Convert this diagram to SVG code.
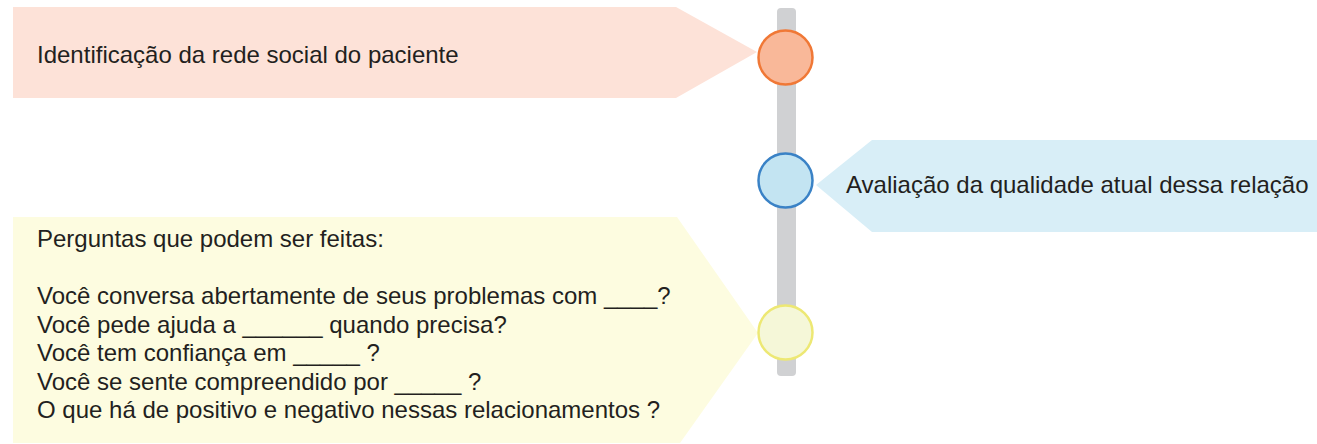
<svg xmlns="http://www.w3.org/2000/svg" width="1317" height="444" viewBox="0 0 1317 444">
<style>
text{font-family:"Liberation Sans",Arial,sans-serif;font-size:24px;fill:#231f20}
.node circle{stroke-width:2.5}
</style>
<rect width="1317" height="444" fill="#ffffff"/>
<g id="timeline">
<rect x="777" y="8" width="19" height="368" rx="4" fill="#d0d1d3"/>
</g>
<g id="connectors"></g>
<g id="node1" class="node">
<polygon points="13,7 676,7 757,52 676,98 13,98" fill="#fde2d8"/>
<circle cx="785.5" cy="57.5" r="27" fill="#f9b899" stroke="#f07836"/>
<text x="37" y="63">Identificação da rede social do paciente</text>
</g>
<g id="node2" class="node">
<polygon points="816,185 872,140 1317,140 1317,232 872,232" fill="#d8eef7"/>
<circle cx="785.5" cy="180.5" r="27" fill="#c3e4f2" stroke="#3a82c6"/>
<text x="846" y="193">Avaliação da qualidade atual dessa relação</text>
</g>
<g id="node3" class="node">
<polygon points="13,217 677,217 758,333 680,443 13,443" fill="#fdfce0"/>
<circle cx="785.5" cy="332.5" r="27" fill="#f5f7d8" stroke="#ede874"/>
<text x="37" y="247">Perguntas que podem ser feitas:</text>
<text x="37" y="304">Você conversa abertamente de seus problemas com ____?</text>
<text x="37" y="332.5">Você pede ajuda a ______ quando precisa?</text>
<text x="37" y="361">Você tem confiança em _____ ?</text>
<text x="37" y="389.5">Você se sente compreendido por _____ ?</text>
<text x="37" y="418">O que há de positivo e negativo nessas relacionamentos ?</text>
</g>
</svg>
